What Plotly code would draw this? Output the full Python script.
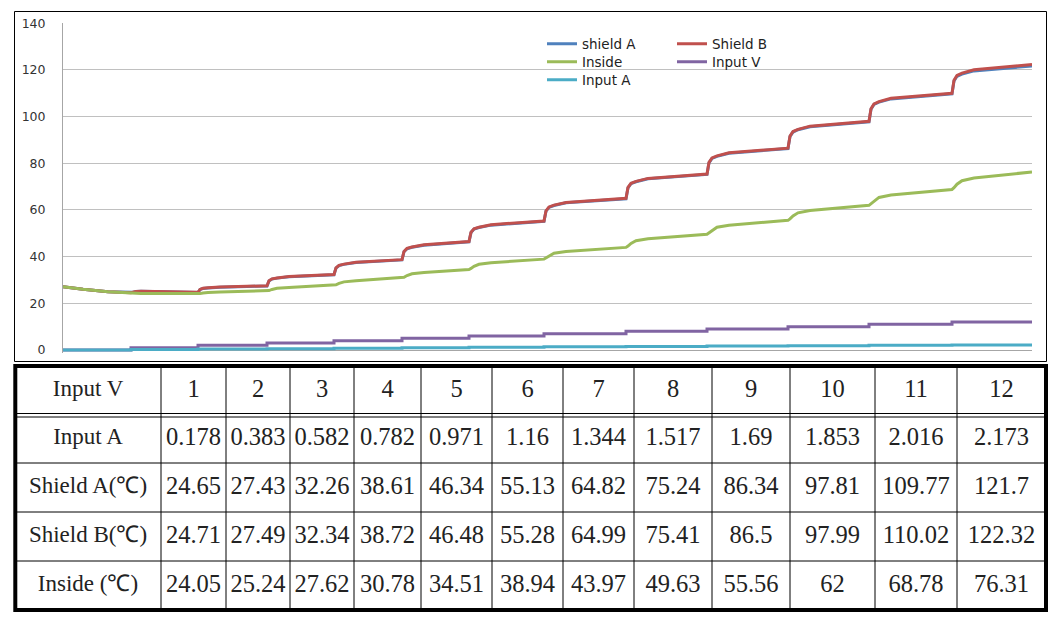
import plotly.graph_objects as go

# ---------------- data ----------------
# time axis (arbitrary sample units, no labels shown on the chart)
t_steps = [0, 68, 135, 204, 271, 339, 406, 481, 563, 644, 725, 806, 889, 969]
input_v_steps = [0, 1, 2, 3, 4, 5, 6, 7, 8, 9, 10, 11, 12, 12]
input_a_steps = [0, 0.178, 0.383, 0.582, 0.782, 0.971, 1.16, 1.344, 1.517,
                 1.69, 1.853, 2.016, 2.173, 2.173]

t_curve = [0, 20, 45,
           68, 70, 73, 78, 90,
           135, 137, 140, 145, 157,
           204, 206, 209, 214, 226,
           271, 273, 276, 281, 293,
           339, 341, 344, 349, 361,
           406, 408, 411, 416, 428,
           481, 483, 486, 491, 503,
           563, 565, 568, 573, 585,
           644, 646, 649, 654, 666,
           725, 727, 730, 735, 747,
           806, 808, 811, 816, 828,
           889, 891, 894, 899, 911, 969]

shield_a_curve = [27.1, 26.0, 25.0,
                  24.5, 24.75, 25.05, 25.15, 25.05,
                  24.65, 25.9, 26.4, 26.6, 26.9,
                  27.43, 29.6, 30.4, 30.8, 31.4,
                  32.26, 35.1, 36.2, 36.7, 37.5,
                  38.61, 42.1, 43.4, 44.0, 44.9,
                  46.34, 50.3, 51.8, 52.5, 53.5,
                  55.13, 59.5, 61.1, 61.9, 63.1,
                  64.82, 69.5, 71.3, 72.1, 73.4,
                  75.24, 80.2, 82.1, 83.0, 84.3,
                  86.34, 91.5, 93.4, 94.4, 95.7,
                  97.81, 103.2, 105.2, 106.2, 107.6,
                  109.77, 115.3, 117.3, 118.2, 119.6, 121.7]

shield_b_curve = [27.1, 26.0, 25.0,
                  24.5, 24.8, 25.1, 25.2, 25.1,
                  24.71, 25.96, 26.43, 26.66, 26.99,
                  27.49, 29.67, 30.50, 30.89, 31.47,
                  32.34, 35.21, 36.30, 36.81, 37.57,
                  38.72, 42.21, 43.53, 44.15, 45.08,
                  46.48, 50.44, 51.94, 52.64, 53.70,
                  55.28, 59.65, 61.30, 62.08, 63.24,
                  64.99, 69.68, 71.45, 72.28, 73.53,
                  75.41, 80.40, 82.29, 83.17, 84.50,
                  86.5, 91.67, 93.62, 94.54, 95.92,
                  97.99, 103.40, 105.45, 106.41, 107.85,
                  110.02, 115.56, 117.65, 118.63, 120.11, 122.32]

inside_curve = [27.1, 26.0, 25.0,
                24.3, 24.3, 24.3, 24.25, 24.2,
                24.05, 24.17, 24.41, 24.65, 24.82,
                25.24, 25.48, 25.95, 26.43, 26.79,
                27.62, 27.94, 28.57, 29.20, 29.67,
                30.78, 31.15, 31.90, 32.65, 33.20,
                34.51, 34.95, 35.84, 36.73, 37.39,
                38.94, 39.44, 40.45, 41.46, 42.21,
                43.97, 44.54, 45.67, 46.80, 47.65,
                49.63, 50.22, 51.41, 52.60, 53.48,
                55.56, 56.20, 57.49, 58.78, 59.75,
                62, 62.68, 64.03, 65.39, 66.41,
                68.78, 69.53, 71.04, 72.55, 73.67, 76.31]

# table
table_input_v = [1, 2, 3, 4, 5, 6, 7, 8, 9, 10, 11, 12]
table_input_a = [0.178, 0.383, 0.582, 0.782, 0.971, 1.16, 1.344, 1.517, 1.69, 1.853, 2.016, 2.173]
table_shield_a = [24.65, 27.43, 32.26, 38.61, 46.34, 55.13, 64.82, 75.24, 86.34, 97.81, 109.77, 121.7]
table_shield_b = [24.71, 27.49, 32.34, 38.72, 46.48, 55.28, 64.99, 75.41, 86.5, 97.99, 110.02, 122.32]
table_inside = [24.05, 25.24, 27.62, 30.78, 34.51, 38.94, 43.97, 49.63, 55.56, 62, 68.78, 76.31]
row_labels = ["Input A", "Shield A(℃)", "Shield B(℃)", "Inside (℃)"]

y_ticks = [0, 20, 40, 60, 80, 100, 120, 140]

# ---------------- figure ----------------
# the page body has an 8px margin, so the figure is sized to sit inside the window
OFF = 8
W, H = 1058 - 2 * OFF, 624 - 2 * OFF
def px(x):
    return (x - OFF) / W
def py(y):
    return 1 - (y - OFF) / H

fig = go.Figure()
line_w = 3
fig.add_trace(go.Scatter(x=t_curve, y=shield_a_curve, mode="lines", name="shield A",
                         line=dict(color="#4F81BD", width=line_w), legend="legend"))
fig.add_trace(go.Scatter(x=t_curve, y=shield_b_curve, mode="lines", name="Shield B",
                         line=dict(color="#C0504D", width=line_w), legend="legend"))
fig.add_trace(go.Scatter(x=t_curve, y=inside_curve, mode="lines", name="Inside",
                         line=dict(color="#9BBB59", width=line_w), legend="legend2"))
fig.add_trace(go.Scatter(x=t_steps, y=input_v_steps, mode="lines", name="Input V",
                         line=dict(color="#8064A2", width=line_w, shape="hv"), legend="legend2"))
fig.add_trace(go.Scatter(x=t_steps, y=input_a_steps, mode="lines", name="Input A",
                         line=dict(color="#4BACC6", width=line_w, shape="hv"), legend="legend3"))

def fmt(v):
    return f"{v:g}"

# table geometry (page pixels): columns and rows of the grid
col_w = [146, 65, 64, 64, 67, 71, 71, 71, 78, 78, 85, 82, 89]
tbl_left, tbl_top, head_h, row_h = 15, 366, 48, 49
text_drop = 5  # table text sits a little lower in the reference cells
col_font_sizes = [23] + [24.5] * 12

fig.add_trace(go.Table(
    domain=dict(x=[px(tbl_left), px(tbl_left + sum(col_w))],
                y=[py(tbl_top + text_drop + head_h + 4 * row_h + 1), py(tbl_top + text_drop)]),
    columnwidth=col_w,
    header=dict(values=["Input V"] + [fmt(v) for v in table_input_v],
                height=head_h, align="center",
                font=dict(family="Liberation Serif", size=col_font_sizes, color="#222"),
                line=dict(color="rgba(0,0,0,0)", width=0), fill=dict(color="rgba(0,0,0,0)")),
    cells=dict(values=[row_labels] + [[fmt(table_input_a[i]), fmt(table_shield_a[i]),
                                        fmt(table_shield_b[i]), fmt(table_inside[i])]
                                       for i in range(12)],
               height=row_h, align="center",
               font=dict(family="Liberation Serif", size=col_font_sizes, color="#222"),
               line=dict(color="rgba(0,0,0,0)", width=0), fill=dict(color="rgba(0,0,0,0)")),
))

# grid lines of the table
shapes = []
tbl_right = tbl_left + sum(col_w)
tbl_bottom = tbl_top + head_h + 4 * row_h
xb = tbl_left
for w in col_w[:-1]:
    xb += w
    shapes.append(dict(type="line", xref="paper", yref="paper", x0=px(xb), x1=px(xb),
                       y0=py(tbl_bottom), y1=py(tbl_top), line=dict(color="black", width=1),
                       layer="above"))
for yb in [tbl_top + head_h - 0.5, tbl_top + head_h + 3] + \
          [tbl_top + head_h + k * row_h for k in (1, 2, 3)]:
    shapes.append(dict(type="line", xref="paper", yref="paper", x0=px(tbl_left), x1=px(tbl_right),
                       y0=py(yb), y1=py(yb), line=dict(color="black", width=1), layer="above"))
shapes.append(dict(type="rect", xref="paper", yref="paper", x0=px(tbl_left + 0.3), x1=px(tbl_right),
                   y0=py(tbl_bottom), y1=py(tbl_top), line=dict(color="black", width=4),
                   layer="above"))
# chart frame
shapes.append(dict(type="rect", xref="paper", yref="paper", x0=px(14.5), x1=px(1046.5),
                   y0=py(361.5), y1=py(11.5), line=dict(color="black", width=1), layer="above"))

legend_common = dict(orientation="h", xanchor="left", yanchor="middle",
                     font=dict(family="DejaVu Sans", size=13.5, color="#222"),
                     bgcolor="rgba(0,0,0,0)", entrywidth=85, entrywidthmode="pixels",
                     itemwidth=30, tracegroupgap=0)

fig.update_layout(
    width=W, height=H,
    margin=dict(l=0, r=0, t=0, b=0),
    paper_bgcolor="white", plot_bgcolor="white",
    showlegend=True,
    legend=dict(x=px(542), y=py(44), **legend_common),
    legend2=dict(x=px(542), y=py(62), **legend_common),
    legend3=dict(x=px(542), y=py(80), **legend_common),
    xaxis=dict(domain=[px(63), px(1032)], range=[0, 969], showgrid=False,
               showticklabels=False, zeroline=False, showline=False, ticks="",
               automargin=False),
    yaxis=dict(domain=[py(352.8), py(23.3)], range=[-1.2, 140], tickvals=y_ticks,
               showgrid=True, gridcolor="#C0C0C0", gridwidth=1,
               zeroline=True, zerolinecolor="#A6A6A6", zerolinewidth=1,
               showline=True, linecolor="#A6A6A6", linewidth=1,
               ticks="", ticklabelstandoff=14, automargin=False,
               tickfont=dict(family="DejaVu Sans", size=12.5, color="#333")),
    shapes=shapes,
)

fig.write_html("out.html")
